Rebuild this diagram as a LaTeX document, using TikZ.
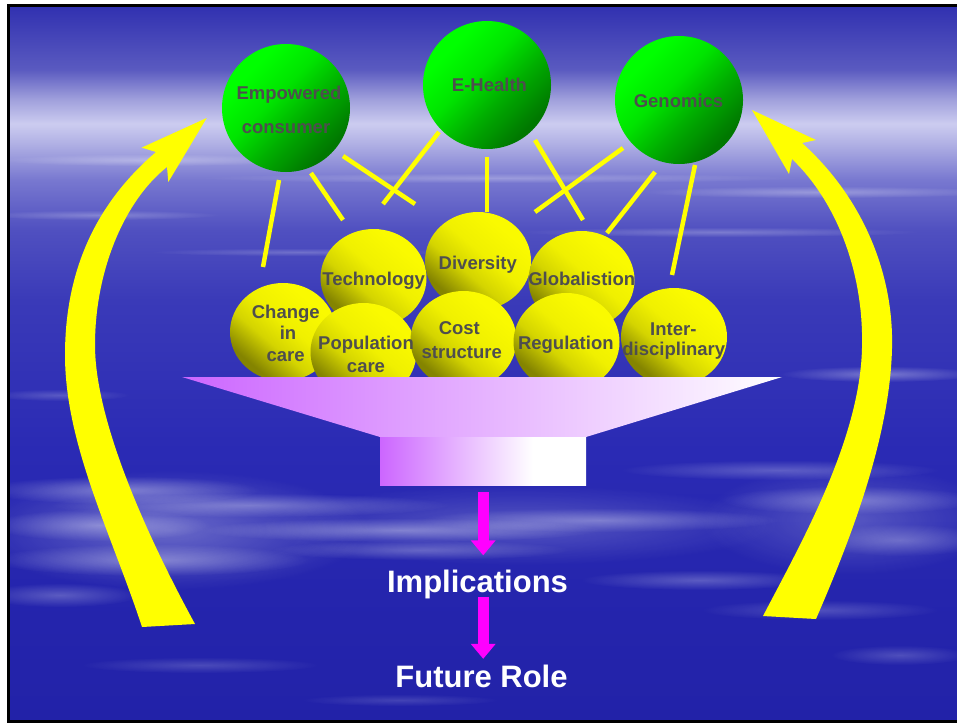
\documentclass[tikz,border=0pt]{standalone}
\usepackage{fontspec}
\setmainfont{Liberation Sans}
\usetikzlibrary{shapes.geometric,fadings,arrows.meta}

\definecolor{sA}{HTML}{2222A8}
\definecolor{sB}{HTML}{2424AC}
\definecolor{sC}{HTML}{2A2AB4}
\definecolor{sD}{HTML}{3A3AB8}
\definecolor{sE}{HTML}{5050C0}
\definecolor{sF}{HTML}{7878D0}
\definecolor{sG}{HTML}{B0B0E4}
\definecolor{sH}{HTML}{CCCCF0}
\definecolor{sI}{HTML}{A0A0DC}
\definecolor{sJ}{HTML}{5A5AC0}
\definecolor{sK}{HTML}{3030B0}
\definecolor{yA}{HTML}{FAFA00}
\definecolor{yB}{HTML}{F0F000}
\definecolor{yC}{HTML}{D4D400}
\definecolor{yD}{HTML}{848400}
\definecolor{gA}{HTML}{00FF00}
\definecolor{gB}{HTML}{00E400}
\definecolor{gC}{HTML}{00AC00}
\definecolor{gD}{HTML}{007800}
\definecolor{fun}{HTML}{CC66FF}
\definecolor{btxt}{HTML}{4E4E4E}
\definecolor{mag}{HTML}{FF00FF}
\definecolor{ylw}{HTML}{FFFF00}

\pgfdeclareverticalshading{skybg}{100bp}{color(0bp)=(sA); color(25bp)=(sA); color(32bp)=(sB); color(43.9bp)=(sC); color(54.4bp)=(sD); color(59.3bp)=(sE); color(62.8bp)=(sF); color(65.3bp)=(sG); color(66.7bp)=(sH); color(68.4bp)=(sI); color(70.5bp)=(sJ); color(75bp)=(sK); color(100bp)=(sK)}
\pgfdeclareverticalshading{yfade}{100bp}{color(0bp)=(yD); color(28bp)=(yD); color(42bp)=(yC); color(54bp)=(yB); color(70bp)=(yA); color(100bp)=(yA)}
\pgfdeclareverticalshading{gfade}{100bp}{color(0bp)=(gD); color(27bp)=(gD); color(42bp)=(gC); color(56bp)=(gB); color(70bp)=(gA); color(100bp)=(gA)}
\pgfdeclarehorizontalshading{spoutshade}{100bp}{color(0bp)=(fun); color(25bp)=(fun); color(62bp)=(white); color(100bp)=(white)}
\tikzfading[name=cloudfade, inner color=transparent!0, outer color=transparent!100]

\tikzset{
  greenball/.style={circle, minimum size=128pt, inner sep=0pt, shade, shading=gfade, shading angle=45},
  yellowball/.style={ellipse, minimum width=106pt, minimum height=98pt, inner sep=0pt, shade, shading=yfade, shading angle=-40},
  balltxt/.style={font=\bfseries\fontsize{18.5}{18.5}\selectfont, text=btxt, inner sep=0pt, anchor=base},
  bigtxt/.style={font=\bfseries\fontsize{31}{31}\selectfont, text=white, inner sep=0pt, anchor=base},
  link/.style={draw=ylw, line width=4.5pt},
  magarrow/.style={draw=mag, line width=11pt, -{Triangle[length=15pt,width=24pt]}},
  cloud/.style={fill=white, path fading=cloudfade},
}

\begin{document}
\begin{tikzpicture}[x=1pt,y=-1pt]
\useasboundingbox (0,0) rectangle (957,723);
\fill[white] (0,0) rectangle (957,723);
% sky
\shade[shading=skybg] (8,5) rectangle (957,721);
\begin{scope}
\clip (8,5) rectangle (957,721);
% streaks upper
\fill[cloud, opacity=.30] (150,160) ellipse (150 and 6);
\fill[cloud, opacity=.25] (500,178) ellipse (300 and 5);
\fill[cloud, opacity=.30] (820,192) ellipse (180 and 6);
\fill[cloud, opacity=.25] (100,215) ellipse (120 and 5);
\fill[cloud, opacity=.25] (720,232) ellipse (200 and 5);
\fill[cloud, opacity=.22] (300,252) ellipse (150 and 4);
\fill[cloud, opacity=.20] (60,395) ellipse (70 and 6);
\fill[cloud, opacity=.35] (880,374) ellipse (100 and 8);
% clouds lower: soft masses
\fill[cloud, opacity=.30] (170,530) ellipse (200 and 60);
\fill[cloud, opacity=.22] (520,525) ellipse (260 and 40);
\fill[cloud, opacity=.22] (850,520) ellipse (150 and 55);
% streaks
\fill[cloud, opacity=.35] (120,490) ellipse (140 and 14);
\fill[cloud, opacity=.30] (250,505) ellipse (200 and 12);
\fill[cloud, opacity=.35] (100,525) ellipse (110 and 16);
\fill[cloud, opacity=.35] (400,530) ellipse (200 and 12);
\fill[cloud, opacity=.30] (600,520) ellipse (180 and 12);
\fill[cloud, opacity=.35] (150,560) ellipse (160 and 16);
\fill[cloud, opacity=.25] (420,550) ellipse (150 and 10);
\fill[cloud, opacity=.25] (60,595) ellipse (80 and 12);
\fill[cloud, opacity=.30] (850,500) ellipse (130 and 14);
\fill[cloud, opacity=.25] (780,470) ellipse (160 and 10);
\fill[cloud, opacity=.25] (900,540) ellipse (90 and 16);
\fill[cloud, opacity=.25] (700,580) ellipse (120 and 10);
\fill[cloud, opacity=.20] (820,610) ellipse (120 and 10);
\fill[cloud, opacity=.18] (200,665) ellipse (120 and 8);
\fill[cloud, opacity=.15] (400,700) ellipse (100 and 6);
\fill[cloud, opacity=.20] (900,655) ellipse (70 and 10);
\end{scope}
\draw[line width=3pt] (8,5) rectangle (962,721);

% big yellow arrows
\fill[ylw] (142,627) .. controls (112,535) and (65,445) .. (65,355)
  .. controls (65,265) and (100,200) .. (156,152) -- (141.7,147.6) -- (206.7,118)
  -- (168.3,182) -- (167,167) .. controls (125,200) and (95,270) .. (95,345)
  .. controls (95,430) and (160,560) .. (195,624) -- cycle;
\fill[ylw] (816,619) .. controls (848,545) and (890,440) .. (892,348)
  .. controls (894,270) and (860,195) .. (802,143) -- (816,140) -- (752,110)
  -- (789,174) -- (792,159) .. controls (835,200) and (864,270) .. (862,348)
  .. controls (860,440) and (800,545) .. (763,616) -- cycle;

% connector ends
\coordinate (l1a) at (279,180); \coordinate (l1b) at (263,267);
\coordinate (l2a) at (311,173); \coordinate (l2b) at (343,220);
\coordinate (l3a) at (343,156); \coordinate (l3b) at (415,204);
\coordinate (l4a) at (439,132); \coordinate (l4b) at (383,204);
\coordinate (l5a) at (487,157); \coordinate (l5b) at (487,212);
\coordinate (l6a) at (535,140); \coordinate (l6b) at (583,220);
\coordinate (l7a) at (623,148); \coordinate (l7b) at (535,212);
\coordinate (l8a) at (655,172); \coordinate (l8b) at (607,233);
\coordinate (l9a) at (695,165); \coordinate (l9b) at (672,275);
\foreach \i in {1,...,9} {\draw[link] (l\i a) -- (l\i b);}

% green balls
\node[greenball] (emp) at (286,108) {};
\node[greenball] (ehealth) at (487,85) {};
\node[greenball] (genom) at (679,100) {};
\node[balltxt] (empA) at (289,99) {Empowered};
\node[balltxt] (empB) at (286,133) {consumer};
\node[balltxt] (ehT) at (489.5,91) {E-Health};
\node[balltxt] (genT) at (678.5,107) {Genomics};

% yellow balls
\node[yellowball] (tech) at (373.5,278) {};
\node[yellowball] (div) at (478,261) {};
\node[yellowball] (glob) at (581.5,280) {};
\node[yellowball] (chg) at (283,332) {};
\node[yellowball] (pop) at (363.5,352) {};
\node[yellowball] (cost) at (463.5,340) {};
\node[yellowball] (reg) at (566.5,342) {};
\node[yellowball] (inter) at (674,337) {};
\node[balltxt] (techT) at (373.7,285.5) {Technology};
\node[balltxt] (divT) at (477.8,269) {Diversity};
\node[balltxt] (globT) at (581.7,285.5) {Globalistion};
\node[balltxt] (chgA) at (285.8,318) {Change};
\node[balltxt] (chgB) at (288,339.5) {in};
\node[balltxt] (chgC) at (285.7,361.5) {care};
\node[balltxt] (popA) at (366,349.5) {Population};
\node[balltxt] (popB) at (366,372) {care};
\node[balltxt] (costA) at (459.3,334.5) {Cost};
\node[balltxt] (costB) at (461.7,358.5) {structure};
\node[balltxt] (regT) at (565.8,349.5) {Regulation};
\node[balltxt] (interA) at (673.3,335.5) {Inter-};
\node[balltxt] (interB) at (673.8,355.5) {disciplinary};

% funnel
\shade[left color=fun, right color=white] (182,377) -- (782,377) -- (586,437) -- (380,437) -- cycle;
\node[shade, shading=spoutshade, minimum width=206pt, minimum height=48pt, inner sep=0pt, anchor=north west] (spout) at (380,437) {};

% texts
\node[bigtxt] (impl) at (477.5,592) {Implications};
\node[bigtxt] (future) at (481.5,687) {Future Role};

% magenta arrows
\draw[magarrow] ([yshift=-7pt]spout.south) -- ([yshift=14pt]spout.south |- impl.north);
\draw[magarrow] ([yshift=2pt]spout.south |- impl.south) -- ([yshift=5.5pt]spout.south |- future.north);
\end{tikzpicture}
\end{document}
